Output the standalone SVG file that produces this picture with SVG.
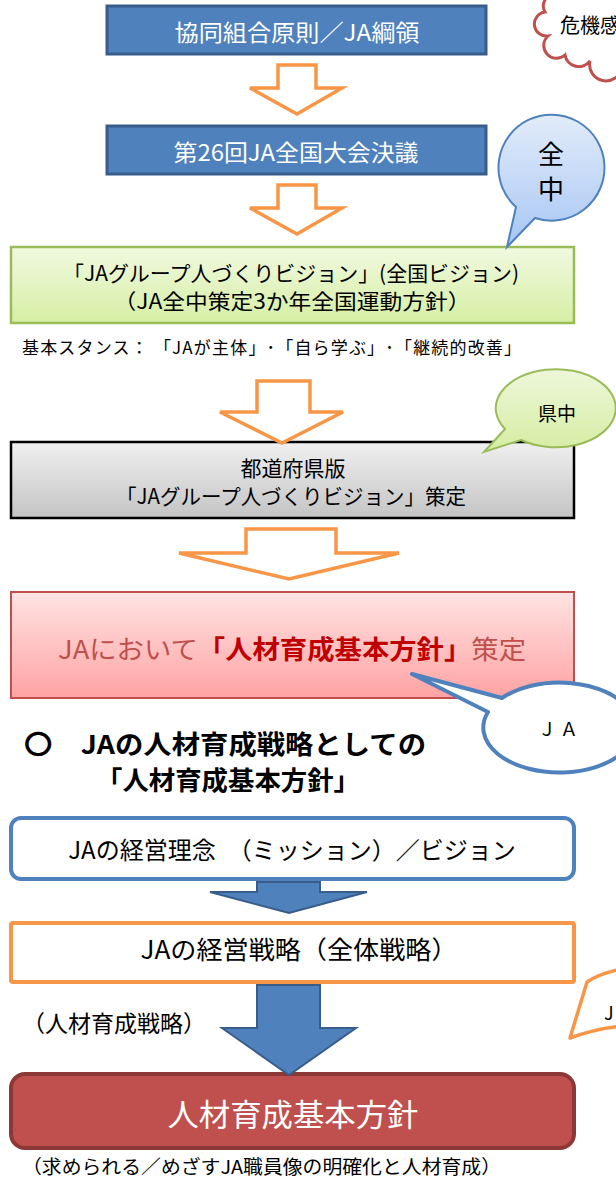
<svg xmlns="http://www.w3.org/2000/svg" width="616" height="1179" viewBox="0 0 616 1179">
<style>
text{font-family:"Noto Sans CJK JP","Noto Sans CJK SC",sans-serif;text-anchor:middle;dominant-baseline:central}
.w{fill:#fff}
.k{fill:#000}
.hollow{fill:#fff;stroke:#F79646;stroke-width:3.5;stroke-linejoin:miter}
.solid{fill:#4F81BD;stroke:#385D8A;stroke-width:2}
</style>
<defs>
<linearGradient id="gGreen" x1="0" y1="0" x2="0" y2="1"><stop offset="0" stop-color="#F1F9E0"/><stop offset="1" stop-color="#D6EFA4"/></linearGradient>
<linearGradient id="gGray" x1="0" y1="0" x2="0" y2="1"><stop offset="0" stop-color="#F0F0F0"/><stop offset="1" stop-color="#C4C4C4"/></linearGradient>
<linearGradient id="gPink" x1="0" y1="0" x2="0" y2="1"><stop offset="0" stop-color="#FFE3E3"/><stop offset="1" stop-color="#FFA3A3"/></linearGradient>
<linearGradient id="gBlue" x1="0" y1="0" x2="0" y2="1"><stop offset="0" stop-color="#E2ECFA"/><stop offset="1" stop-color="#A7C6F3"/></linearGradient>
<linearGradient id="gLG" x1="0" y1="0" x2="0" y2="1"><stop offset="0" stop-color="#EEF7DA"/><stop offset="1" stop-color="#D5EDA3"/></linearGradient>
</defs>

<g id="cloud">
<path d="M556 -6 A12 12 0 0 0 545 12 A10 10 0 0 0 548 36 A12 12 0 0 0 565 55 A14 14 0 0 0 590 61 A16 16 0 0 0 622 68" fill="#fff" stroke="#C0504D" stroke-width="3"/>
<text x="560" y="24" class="k" font-size="20" style="text-anchor:start">危機感</text>
</g>

<g id="n1">
<rect x="107" y="6" width="379" height="48" fill="#4F81BD" stroke="#385D8A" stroke-width="3"/>
<text x="297" y="31" class="w" font-size="23" textLength="245" lengthAdjust="spacingAndGlyphs">協同組合原則／JA綱領</text>
</g>

<g id="n2">
<rect x="107" y="126" width="379" height="48" fill="#4F81BD" stroke="#385D8A" stroke-width="3"/>
<text x="296" y="151" class="w" font-size="23" textLength="245" lengthAdjust="spacingAndGlyphs">第26回JA全国大会決議</text>
</g>

<g id="n3">
<rect x="11" y="247" width="563" height="76" fill="url(#gGreen)" stroke="#9BBB59" stroke-width="2.5"/>
<text x="291" y="272" class="k" font-size="21" textLength="456" lengthAdjust="spacingAndGlyphs">「JAグループ人づくりビジョン」(全国ビジョン)</text>
<text x="292" y="300" class="k" font-size="21" textLength="357" lengthAdjust="spacingAndGlyphs">（JA全中策定3か年全国運動方針）</text>
</g>

<g id="stance">
<text x="22" y="346" class="k" font-size="17" style="text-anchor:start" textLength="499" lengthAdjust="spacing">基本スタンス： 「JAが主体」･「自ら学ぶ」･「継続的改善」</text>
</g>

<g id="zenchu">
<path d="M516 207 A53 53 0 1 1 535 218 L507 247 Z" fill="url(#gBlue)" stroke="#4F81BD" stroke-width="2"/>
<text x="551" y="152" class="k" font-size="26">全</text>
<text x="551" y="187" class="k" font-size="26">中</text>
</g>

<g id="n4">
<rect x="11" y="442" width="563" height="76" fill="url(#gGray)" stroke="#000" stroke-width="2.5"/>
<text x="293" y="467" class="k" font-size="21">都道府県版</text>
<text x="291" y="495" class="k" font-size="21" textLength="350" lengthAdjust="spacingAndGlyphs">「JAグループ人づくりビジョン」策定</text>
</g>

<g id="kenchu">
<path d="M505 429 A60 39 0 1 1 521 440 L484 452 Z" fill="url(#gLG)" stroke="#9BBB59" stroke-width="2"/>
<text x="557" y="412" class="k" font-size="19">県中</text>
</g>

<g id="n5">
<rect x="11" y="592" width="563" height="106" fill="url(#gPink)" stroke="#C0504D" stroke-width="2"/>
<text x="292" y="647" font-size="26" fill="#C0504D" textLength="468" lengthAdjust="spacingAndGlyphs">JAにおいて<tspan fill="#C00000" font-weight="bold">「人材育成基本方針」</tspan>策定</text>
</g>

<g id="ja">
<path d="M502 698 A76 45 0 1 1 488 712 L412 674 Z" fill="#fff" stroke="#4F81BD" stroke-width="4" stroke-linejoin="round"/>
<text x="558" y="728" class="k" font-size="18">Ｊ Ａ</text>
</g>

<g id="heading">
<text x="24" y="742" class="k" font-size="26" font-weight="bold" style="text-anchor:start" textLength="402" lengthAdjust="spacingAndGlyphs">〇　JAの人材育成戦略としての</text>
<text x="96" y="778" class="k" font-size="26" font-weight="bold" style="text-anchor:start" textLength="264" lengthAdjust="spacingAndGlyphs">「人材育成基本方針」</text>
</g>

<g id="n6">
<rect x="11" y="818" width="563" height="61" rx="10" fill="#fff" stroke="#4F81BD" stroke-width="4"/>
<text x="292" y="848" class="k" font-size="24">JAの経営理念　（ミッション）／ビジョン</text>
</g>

<g id="n7">
<rect x="11" y="923" width="563" height="59" rx="2" fill="#fff" stroke="#F79646" stroke-width="4"/>
<text x="299" y="948" class="k" font-size="25" textLength="317" lengthAdjust="spacingAndGlyphs">JAの経営戦略（全体戦略）</text>
</g>

<g id="label">
<text x="22" y="1022" class="k" font-size="23" style="text-anchor:start" textLength="184" lengthAdjust="spacingAndGlyphs">（人材育成戦略）</text>
</g>

<g id="callout">
<path d="M587 982 C596 976 606 972 622 969 L622 1026 C602 1028 586 1032 570 1038 Z" fill="#fff" stroke="#F79646" stroke-width="3.5" stroke-linejoin="round"/>
<text x="604" y="1012" class="k" font-size="18" style="text-anchor:start">J</text>
</g>

<g id="n8">
<rect x="11" y="1074" width="563" height="74" rx="14" fill="#C0504D" stroke="#8C3836" stroke-width="4"/>
<text x="293" y="1112" class="w" font-size="31" textLength="251" lengthAdjust="spacingAndGlyphs">人材育成基本方針</text>
</g>

<g id="note">
<text x="22" y="1165" class="k" font-size="19" style="text-anchor:start" textLength="479" lengthAdjust="spacingAndGlyphs">（求められる／めざすJA職員像の明確化と人材育成）</text>
</g>

<g id="connectors">
<path class="hollow" d="M278 65 L316 65 L316 88 L342 88 L297 114 L250 88 L278 88 Z"/>
<path class="hollow" d="M278 185 L316 185 L316 208 L342 208 L297 234 L250 208 L278 208 Z"/>
<path class="hollow" d="M257 381 L310 381 L310 412 L343 412 L282 443 L220 412 L257 412 Z"/>
<path class="hollow" d="M246 529 L336 529 L336 553 L399 553 L289 579 L179 553 L246 553 Z"/>
<path class="solid" d="M257 882 L320 882 L320 892 L367 892 L289 913 L210 892 L257 892 Z"/>
<path class="solid" d="M257 985 L320 985 L320 1028 L356 1028 L289 1075 L222 1028 L257 1028 Z"/>
</g>
</svg>
